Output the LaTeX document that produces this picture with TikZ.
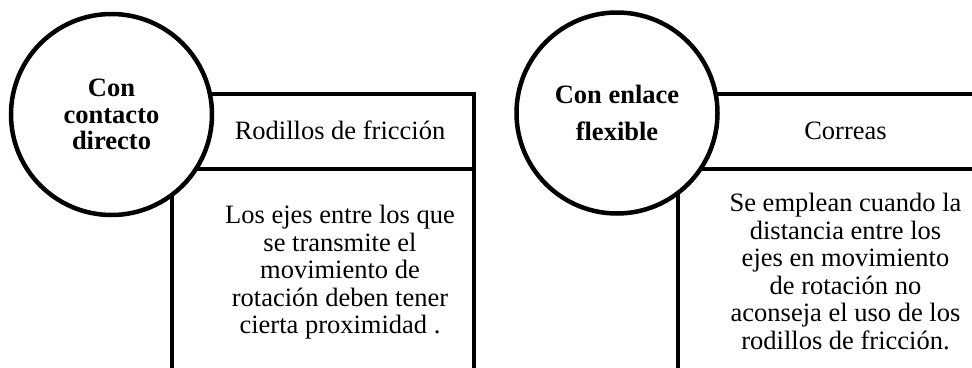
\documentclass[tikz,border=0pt]{standalone}
\usepackage{fontspec}
\setmainfont{Liberation Serif}

\begin{document}
\begin{tikzpicture}[x=1pt, y=-1pt, disc/.style={circle, draw, line width=4.5pt, fill=white, minimum size=201pt, inner sep=0pt, align=center, font=\fontsize{26.5}{26.5}\selectfont\bfseries}]
    \tikzset{frame/.style={line width=4pt}}
    \tikzset{cell/.style={inner sep=0pt, align=center, font=\fontsize{26.5}{27.5}\selectfont}}
    \clip (0,0) rectangle (972,367);
    \def \w {302} \def \dx {505.5}
    \foreach \s in {0,1} {
    \draw[frame] (172+\s*\dx,94) rectangle ++(\w,320);
    \draw[frame] (172+\s*\dx,169) -- ++(\w,0);
    }
    % left panel
    \node[disc] (c1) at (111.5,114.5) {Con\\contacto\\directo};
    \node[cell, anchor=base] (h1) at (340,139.5) {Rodillos de fricción};
    \node[cell, anchor=north] (b1) at (340,205) {Los ejes entre los que\\se transmite el\\movimiento de\\rotación deben tener\\cierta proximidad .};
    % right panel
    \node[disc] (c2) at (111.5+\dx,113) {Con enlace\\[11pt]flexible};
    \node[cell, anchor=base] (h2) at (340+\dx,139.5) {Correas};
    \node[cell, anchor=north] (b2) at (340+\dx,193) {Se emplean cuando la\\distancia entre los\\ejes en movimiento\\de rotación no\\aconseja el uso de los\\rodillos de fricción.};
\end{tikzpicture}
\end{document}
